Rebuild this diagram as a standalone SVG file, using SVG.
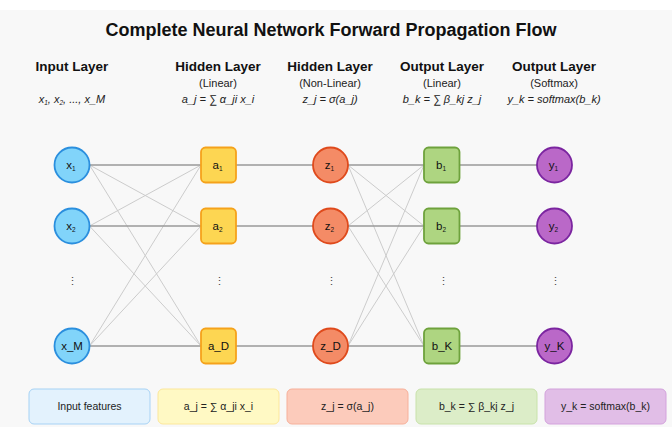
<svg xmlns="http://www.w3.org/2000/svg" width="672" height="427" viewBox="0 0 672 427">
<style>
text{font-family:"Liberation Sans",Arial,sans-serif;fill:#111;}
.title{font-size:18px;font-weight:bold;text-anchor:middle;}
.hdr{font-size:13.5px;font-weight:bold;text-anchor:middle;}
.sub{font-size:11px;text-anchor:middle;fill:#222;}
.fx{font-size:11px;font-style:italic;text-anchor:middle;fill:#222;}
.lbl{font-size:11.5px;text-anchor:middle;}
.sb{font-size:6.5px;}
.dots{font-size:11px;text-anchor:middle;fill:#444;}
.leg{font-size:10.5px;text-anchor:middle;fill:#222;}
.h{stroke:#9a9a9a;stroke-width:1.5;fill:none;}
.c{stroke:#cccccc;stroke-width:1;fill:none;}
.nx{fill:#81d4fa;stroke:#2b8fde;stroke-width:1.8;}
.na{fill:#fdd652;stroke:#f5a21b;stroke-width:1.8;}
.nz{fill:#f48b66;stroke:#df4a1c;stroke-width:1.8;}
.nb{fill:#aed581;stroke:#6ea23c;stroke-width:1.8;}
.ny{fill:#ba68c8;stroke:#7b25a0;stroke-width:1.8;}
</style>
<rect x="0" y="0" width="672" height="427" fill="#ffffff"/>
<rect x="0" y="10" width="672" height="417" fill="#f8f8f8"/>
<text class="title" x="331" y="36">Complete Neural Network Forward Propagation Flow</text>
<g id="headers">
<text class="hdr" x="72" y="71">Input Layer</text>
<text class="fx" x="72" y="103">x<tspan class="sb" dy="2">1</tspan><tspan dy="-2">, x</tspan><tspan class="sb" dy="2">2</tspan><tspan dy="-2">, ..., x_M</tspan></text>
<text class="hdr" x="218" y="71">Hidden Layer</text>
<text class="sub" x="218" y="87">(Linear)</text>
<text class="fx" x="218" y="103">a_j = ∑ α_ji x_i</text>
<text class="hdr" x="330" y="71">Hidden Layer</text>
<text class="sub" x="330" y="87">(Non-Linear)</text>
<text class="fx" x="330" y="103">z_j = σ(a_j)</text>
<text class="hdr" x="442" y="71">Output Layer</text>
<text class="sub" x="442" y="87">(Linear)</text>
<text class="fx" x="442" y="103">b_k = ∑ β_kj z_j</text>
<text class="hdr" x="554" y="71">Output Layer</text>
<text class="sub" x="554" y="87">(Softmax)</text>
<text class="fx" x="554" y="103">y_k = softmax(b_k)</text>
</g>
<g id="connectors">
<line class="c" x1="89.5" y1="165" x2="201" y2="226"/>
<line class="c" x1="89.5" y1="165" x2="201" y2="346"/>
<line class="c" x1="89.5" y1="226" x2="201" y2="165"/>
<line class="c" x1="89.5" y1="226" x2="201" y2="346"/>
<line class="c" x1="89.5" y1="346" x2="201" y2="165"/>
<line class="c" x1="89.5" y1="346" x2="201" y2="226"/>
<line class="h" x1="89.5" y1="165" x2="201" y2="165"/>
<line class="h" x1="89.5" y1="226" x2="201" y2="226"/>
<line class="h" x1="89.5" y1="346" x2="201" y2="346"/>
<line class="h" x1="236" y1="165" x2="313" y2="165"/>
<line class="h" x1="236" y1="226" x2="313" y2="226"/>
<line class="h" x1="236" y1="346" x2="313" y2="346"/>
<line class="c" x1="348" y1="165" x2="424" y2="226"/>
<line class="c" x1="348" y1="165" x2="424" y2="346"/>
<line class="c" x1="348" y1="226" x2="424" y2="165"/>
<line class="c" x1="348" y1="226" x2="424" y2="346"/>
<line class="c" x1="348" y1="346" x2="424" y2="165"/>
<line class="c" x1="348" y1="346" x2="424" y2="226"/>
<line class="h" x1="348" y1="165" x2="424" y2="165"/>
<line class="h" x1="348" y1="226" x2="424" y2="226"/>
<line class="h" x1="348" y1="346" x2="424" y2="346"/>
<line class="h" x1="460" y1="165" x2="537" y2="165"/>
<line class="h" x1="460" y1="226" x2="537" y2="226"/>
<line class="h" x1="460" y1="346" x2="537" y2="346"/>
</g>
<g id="x1"><circle class="nx" cx="72" cy="165" r="17.5"/><text class="lbl" x="71" y="169">x<tspan class="sb" dy="2">1</tspan></text></g>
<g id="x2"><circle class="nx" cx="72" cy="226" r="17.5"/><text class="lbl" x="71" y="230">x<tspan class="sb" dy="2">2</tspan></text></g>
<g id="xM"><circle class="nx" cx="72" cy="346" r="17.5"/><text class="lbl" x="72" y="350">x_M</text></g>
<g id="a1"><rect class="na" x="201" y="147.5" width="35" height="35" rx="4.5"/><text class="lbl" x="217.5" y="169">a<tspan class="sb" dy="2">1</tspan></text></g>
<g id="a2"><rect class="na" x="201" y="208.5" width="35" height="35" rx="4.5"/><text class="lbl" x="217.5" y="230">a<tspan class="sb" dy="2">2</tspan></text></g>
<g id="aD"><rect class="na" x="201" y="328.5" width="35" height="35" rx="4.5"/><text class="lbl" x="218.5" y="350">a_D</text></g>
<g id="z1"><circle class="nz" cx="330.5" cy="165" r="17.5"/><text class="lbl" x="329.5" y="169">z<tspan class="sb" dy="2">1</tspan></text></g>
<g id="z2"><circle class="nz" cx="330.5" cy="226" r="17.5"/><text class="lbl" x="329.5" y="230">z<tspan class="sb" dy="2">2</tspan></text></g>
<g id="zD"><circle class="nz" cx="330.5" cy="346" r="17.5"/><text class="lbl" x="330.5" y="350">z_D</text></g>
<g id="b1"><rect class="nb" x="424" y="147.5" width="35.5" height="35" rx="4.5"/><text class="lbl" x="441" y="169">b<tspan class="sb" dy="2">1</tspan></text></g>
<g id="b2"><rect class="nb" x="424" y="208.5" width="35.5" height="35" rx="4.5"/><text class="lbl" x="441" y="230">b<tspan class="sb" dy="2">2</tspan></text></g>
<g id="bK"><rect class="nb" x="424" y="328.5" width="35.5" height="35" rx="4.5"/><text class="lbl" x="442" y="350">b_K</text></g>
<g id="y1"><circle class="ny" cx="554.5" cy="165" r="17.5"/><text class="lbl" x="553.5" y="169">y<tspan class="sb" dy="2">1</tspan></text></g>
<g id="y2"><circle class="ny" cx="554.5" cy="226" r="17.5"/><text class="lbl" x="553.5" y="230">y<tspan class="sb" dy="2">2</tspan></text></g>
<g id="yK"><circle class="ny" cx="554.5" cy="346" r="17.5"/><text class="lbl" x="554.5" y="350">y_K</text></g>
<g id="ellipses">
<text class="dots" x="72" y="285">⋮</text>
<text class="dots" x="219" y="285">⋮</text>
<text class="dots" x="331" y="285">⋮</text>
<text class="dots" x="443" y="285">⋮</text>
<text class="dots" x="555" y="285">⋮</text>
</g>
<g id="legend">
<rect x="29" y="389" width="121" height="35" rx="5" fill="#e3f2fd" stroke="#a6d2f5" stroke-width="1"/>
<text class="leg" x="89.5" y="410">Input features</text>
<rect x="158" y="389" width="121" height="35" rx="5" fill="#fff9c4" stroke="#fce79a" stroke-width="1"/>
<text class="leg" x="218.5" y="410">a_j = ∑ α_ji x_i</text>
<rect x="287" y="389" width="121" height="35" rx="5" fill="#fccbbb" stroke="#f7b09a" stroke-width="1"/>
<text class="leg" x="347.5" y="410">z_j = σ(a_j)</text>
<rect x="416" y="389" width="121" height="35" rx="5" fill="#dcedc8" stroke="#c8e2aa" stroke-width="1"/>
<text class="leg" x="476.5" y="410">b_k = ∑ β_kj z_j</text>
<rect x="545" y="389" width="121" height="35" rx="5" fill="#e1bee7" stroke="#d3a2dc" stroke-width="1"/>
<text class="leg" x="605.5" y="410">y_k = softmax(b_k)</text>
</g>
</svg>
